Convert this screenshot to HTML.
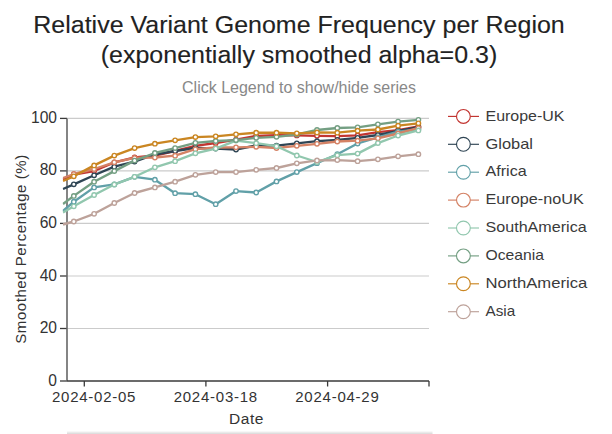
<!DOCTYPE html>
<html><head><meta charset="utf-8"><style>
html,body{margin:0;padding:0;background:#fff;width:612px;height:434px;overflow:hidden}
svg{display:block}
text{font-family:"Liberation Sans", sans-serif}
</style></head><body>
<svg width="612" height="434" viewBox="0 0 612 434">
<rect width="612" height="434" fill="#fff"/>

<text x="299" y="32.8" text-anchor="middle" font-size="24.2" textLength="531.5" lengthAdjust="spacingAndGlyphs" fill="#222" stroke="#222" stroke-width="0.12">Relative Variant Genome Frequency per Region</text>
<text x="299" y="63.3" text-anchor="middle" font-size="24.2" textLength="396.5" lengthAdjust="spacingAndGlyphs" fill="#222" stroke="#222" stroke-width="0.12">(exponentially smoothed alpha=0.3)</text>
<text x="299" y="93.1" text-anchor="middle" font-size="16" fill="#888">Click Legend to show/hide series</text>
<line x1="67" y1="328.5" x2="429" y2="328.5" stroke="#cbcbcb" stroke-width="1.2"/>
<line x1="67" y1="276.0" x2="429" y2="276.0" stroke="#cbcbcb" stroke-width="1.2"/>
<line x1="67" y1="223.4" x2="429" y2="223.4" stroke="#cbcbcb" stroke-width="1.2"/>
<line x1="67" y1="170.9" x2="429" y2="170.9" stroke="#cbcbcb" stroke-width="1.2"/>
<line x1="67" y1="118.4" x2="429" y2="118.4" stroke="#cbcbcb" stroke-width="1.2"/>
<line x1="60" y1="381.0" x2="67" y2="381.0" stroke="#3a3a3a" stroke-width="1.3"/>
<text x="57" y="385.5" text-anchor="end" font-size="15.6" fill="#333">0</text>
<line x1="60" y1="328.5" x2="67" y2="328.5" stroke="#3a3a3a" stroke-width="1.3"/>
<text x="57" y="333.0" text-anchor="end" font-size="15.6" fill="#333">20</text>
<line x1="60" y1="276.0" x2="67" y2="276.0" stroke="#3a3a3a" stroke-width="1.3"/>
<text x="57" y="280.5" text-anchor="end" font-size="15.6" fill="#333">40</text>
<line x1="60" y1="223.4" x2="67" y2="223.4" stroke="#3a3a3a" stroke-width="1.3"/>
<text x="57" y="227.9" text-anchor="end" font-size="15.6" fill="#333">60</text>
<line x1="60" y1="170.9" x2="67" y2="170.9" stroke="#3a3a3a" stroke-width="1.3"/>
<text x="57" y="175.4" text-anchor="end" font-size="15.6" fill="#333">80</text>
<line x1="60" y1="118.4" x2="67" y2="118.4" stroke="#3a3a3a" stroke-width="1.3"/>
<text x="57" y="122.9" text-anchor="end" font-size="15.6" fill="#333">100</text>
<line x1="67" y1="118.4" x2="67" y2="381" stroke="#666" stroke-width="1.6"/>
<line x1="67" y1="381" x2="429" y2="381" stroke="#3a3a3a" stroke-width="1.6"/>
<line x1="84.3" y1="381" x2="84.3" y2="386.5" stroke="#3a3a3a" stroke-width="1.3"/>
<line x1="205.9" y1="381" x2="205.9" y2="386.5" stroke="#3a3a3a" stroke-width="1.3"/>
<line x1="327.6" y1="381" x2="327.6" y2="386.5" stroke="#3a3a3a" stroke-width="1.3"/>
<line x1="429" y1="381" x2="429" y2="386.5" stroke="#3a3a3a" stroke-width="1.3"/>
<text x="94.1" y="401.7" text-anchor="middle" font-size="15" letter-spacing="0.75" fill="#333">2024-02-05</text>
<text x="215.8" y="401.7" text-anchor="middle" font-size="15" letter-spacing="0.75" fill="#333">2024-03-18</text>
<text x="337.4" y="401.7" text-anchor="middle" font-size="15" letter-spacing="0.75" fill="#333">2024-04-29</text>
<text x="246.5" y="423.5" text-anchor="middle" font-size="15.5" letter-spacing="0.6" fill="#333">Date</text>
<text transform="translate(26,249) rotate(-90)" x="0" y="0" text-anchor="middle" font-size="15" letter-spacing="0.55" fill="#333">Smoothed Percentage (%)</text>
<rect x="67" y="431.5" width="365.5" height="1" fill="#f0f0f0"/><rect x="67" y="432.5" width="365.5" height="1.5" fill="#dedede"/>
<defs><clipPath id="cp"><rect x="62.5" y="110" width="372" height="280"/></clipPath></defs>
<g clip-path="url(#cp)">
<polyline points="63.0,179.5 73.8,174.5 94.1,171.0 114.3,162.3 134.6,157.5 154.9,155.5 175.1,151.0 195.4,145.8 215.7,143.0 236.0,139.6 256.2,136.0 276.5,135.2 296.8,135.4 317.0,135.8 337.3,136.2 357.6,135.4 377.9,132.1 398.1,130.1 418.4,126.5" fill="none" stroke="#c23531" stroke-width="2.35" stroke-linejoin="round"/>
<circle cx="73.8" cy="174.5" r="2.2" fill="#fff" stroke="#c23531" stroke-width="1.4"/>
<circle cx="94.1" cy="171.0" r="2.2" fill="#fff" stroke="#c23531" stroke-width="1.4"/>
<circle cx="114.3" cy="162.3" r="2.2" fill="#fff" stroke="#c23531" stroke-width="1.4"/>
<circle cx="134.6" cy="157.5" r="2.2" fill="#fff" stroke="#c23531" stroke-width="1.4"/>
<circle cx="154.9" cy="155.5" r="2.2" fill="#fff" stroke="#c23531" stroke-width="1.4"/>
<circle cx="175.1" cy="151.0" r="2.2" fill="#fff" stroke="#c23531" stroke-width="1.4"/>
<circle cx="195.4" cy="145.8" r="2.2" fill="#fff" stroke="#c23531" stroke-width="1.4"/>
<circle cx="215.7" cy="143.0" r="2.2" fill="#fff" stroke="#c23531" stroke-width="1.4"/>
<circle cx="236.0" cy="139.6" r="2.2" fill="#fff" stroke="#c23531" stroke-width="1.4"/>
<circle cx="256.2" cy="136.0" r="2.2" fill="#fff" stroke="#c23531" stroke-width="1.4"/>
<circle cx="276.5" cy="135.2" r="2.2" fill="#fff" stroke="#c23531" stroke-width="1.4"/>
<circle cx="296.8" cy="135.4" r="2.2" fill="#fff" stroke="#c23531" stroke-width="1.4"/>
<circle cx="317.0" cy="135.8" r="2.2" fill="#fff" stroke="#c23531" stroke-width="1.4"/>
<circle cx="337.3" cy="136.2" r="2.2" fill="#fff" stroke="#c23531" stroke-width="1.4"/>
<circle cx="357.6" cy="135.4" r="2.2" fill="#fff" stroke="#c23531" stroke-width="1.4"/>
<circle cx="377.9" cy="132.1" r="2.2" fill="#fff" stroke="#c23531" stroke-width="1.4"/>
<circle cx="398.1" cy="130.1" r="2.2" fill="#fff" stroke="#c23531" stroke-width="1.4"/>
<circle cx="418.4" cy="126.5" r="2.2" fill="#fff" stroke="#c23531" stroke-width="1.4"/>
<polyline points="63.0,189.0 73.8,184.3 94.1,175.3 114.3,166.7 134.6,161.6 154.9,154.5 175.1,151.0 195.4,148.0 215.7,148.5 236.0,149.5 256.2,145.5 276.5,145.7 296.8,143.3 317.0,141.2 337.3,140.0 357.6,137.8 377.9,135.0 398.1,131.0 418.4,127.2" fill="none" stroke="#2f4554" stroke-width="2.35" stroke-linejoin="round"/>
<circle cx="73.8" cy="184.3" r="2.2" fill="#fff" stroke="#2f4554" stroke-width="1.4"/>
<circle cx="94.1" cy="175.3" r="2.2" fill="#fff" stroke="#2f4554" stroke-width="1.4"/>
<circle cx="114.3" cy="166.7" r="2.2" fill="#fff" stroke="#2f4554" stroke-width="1.4"/>
<circle cx="134.6" cy="161.6" r="2.2" fill="#fff" stroke="#2f4554" stroke-width="1.4"/>
<circle cx="154.9" cy="154.5" r="2.2" fill="#fff" stroke="#2f4554" stroke-width="1.4"/>
<circle cx="175.1" cy="151.0" r="2.2" fill="#fff" stroke="#2f4554" stroke-width="1.4"/>
<circle cx="195.4" cy="148.0" r="2.2" fill="#fff" stroke="#2f4554" stroke-width="1.4"/>
<circle cx="215.7" cy="148.5" r="2.2" fill="#fff" stroke="#2f4554" stroke-width="1.4"/>
<circle cx="236.0" cy="149.5" r="2.2" fill="#fff" stroke="#2f4554" stroke-width="1.4"/>
<circle cx="256.2" cy="145.5" r="2.2" fill="#fff" stroke="#2f4554" stroke-width="1.4"/>
<circle cx="276.5" cy="145.7" r="2.2" fill="#fff" stroke="#2f4554" stroke-width="1.4"/>
<circle cx="296.8" cy="143.3" r="2.2" fill="#fff" stroke="#2f4554" stroke-width="1.4"/>
<circle cx="317.0" cy="141.2" r="2.2" fill="#fff" stroke="#2f4554" stroke-width="1.4"/>
<circle cx="337.3" cy="140.0" r="2.2" fill="#fff" stroke="#2f4554" stroke-width="1.4"/>
<circle cx="357.6" cy="137.8" r="2.2" fill="#fff" stroke="#2f4554" stroke-width="1.4"/>
<circle cx="377.9" cy="135.0" r="2.2" fill="#fff" stroke="#2f4554" stroke-width="1.4"/>
<circle cx="398.1" cy="131.0" r="2.2" fill="#fff" stroke="#2f4554" stroke-width="1.4"/>
<circle cx="418.4" cy="127.2" r="2.2" fill="#fff" stroke="#2f4554" stroke-width="1.4"/>
<polyline points="63.0,211.0 73.8,201.7 94.1,187.4 114.3,184.4 134.6,176.8 154.9,179.7 175.1,193.2 195.4,194.2 215.7,204.2 236.0,191.1 256.2,192.5 276.5,181.4 296.8,172.1 317.0,163.2 337.3,154.2 357.6,143.5 377.9,137.3 398.1,131.7 418.4,129.3" fill="none" stroke="#61a0a8" stroke-width="2.35" stroke-linejoin="round"/>
<circle cx="73.8" cy="201.7" r="2.2" fill="#fff" stroke="#61a0a8" stroke-width="1.4"/>
<circle cx="94.1" cy="187.4" r="2.2" fill="#fff" stroke="#61a0a8" stroke-width="1.4"/>
<circle cx="114.3" cy="184.4" r="2.2" fill="#fff" stroke="#61a0a8" stroke-width="1.4"/>
<circle cx="134.6" cy="176.8" r="2.2" fill="#fff" stroke="#61a0a8" stroke-width="1.4"/>
<circle cx="154.9" cy="179.7" r="2.2" fill="#fff" stroke="#61a0a8" stroke-width="1.4"/>
<circle cx="175.1" cy="193.2" r="2.2" fill="#fff" stroke="#61a0a8" stroke-width="1.4"/>
<circle cx="195.4" cy="194.2" r="2.2" fill="#fff" stroke="#61a0a8" stroke-width="1.4"/>
<circle cx="215.7" cy="204.2" r="2.2" fill="#fff" stroke="#61a0a8" stroke-width="1.4"/>
<circle cx="236.0" cy="191.1" r="2.2" fill="#fff" stroke="#61a0a8" stroke-width="1.4"/>
<circle cx="256.2" cy="192.5" r="2.2" fill="#fff" stroke="#61a0a8" stroke-width="1.4"/>
<circle cx="276.5" cy="181.4" r="2.2" fill="#fff" stroke="#61a0a8" stroke-width="1.4"/>
<circle cx="296.8" cy="172.1" r="2.2" fill="#fff" stroke="#61a0a8" stroke-width="1.4"/>
<circle cx="317.0" cy="163.2" r="2.2" fill="#fff" stroke="#61a0a8" stroke-width="1.4"/>
<circle cx="337.3" cy="154.2" r="2.2" fill="#fff" stroke="#61a0a8" stroke-width="1.4"/>
<circle cx="357.6" cy="143.5" r="2.2" fill="#fff" stroke="#61a0a8" stroke-width="1.4"/>
<circle cx="377.9" cy="137.3" r="2.2" fill="#fff" stroke="#61a0a8" stroke-width="1.4"/>
<circle cx="398.1" cy="131.7" r="2.2" fill="#fff" stroke="#61a0a8" stroke-width="1.4"/>
<circle cx="418.4" cy="129.3" r="2.2" fill="#fff" stroke="#61a0a8" stroke-width="1.4"/>
<polyline points="63.0,178.0 73.8,174.0 94.1,169.0 114.3,162.3 134.6,157.9 154.9,157.5 175.1,155.7 195.4,149.2 215.7,147.5 236.0,147.3 256.2,146.8 276.5,148.0 296.8,145.8 317.0,143.8 337.3,141.5 357.6,140.7 377.9,138.3 398.1,133.5 418.4,128.0" fill="none" stroke="#d48265" stroke-width="2.35" stroke-linejoin="round"/>
<circle cx="73.8" cy="174.0" r="2.2" fill="#fff" stroke="#d48265" stroke-width="1.4"/>
<circle cx="94.1" cy="169.0" r="2.2" fill="#fff" stroke="#d48265" stroke-width="1.4"/>
<circle cx="114.3" cy="162.3" r="2.2" fill="#fff" stroke="#d48265" stroke-width="1.4"/>
<circle cx="134.6" cy="157.9" r="2.2" fill="#fff" stroke="#d48265" stroke-width="1.4"/>
<circle cx="154.9" cy="157.5" r="2.2" fill="#fff" stroke="#d48265" stroke-width="1.4"/>
<circle cx="175.1" cy="155.7" r="2.2" fill="#fff" stroke="#d48265" stroke-width="1.4"/>
<circle cx="195.4" cy="149.2" r="2.2" fill="#fff" stroke="#d48265" stroke-width="1.4"/>
<circle cx="215.7" cy="147.5" r="2.2" fill="#fff" stroke="#d48265" stroke-width="1.4"/>
<circle cx="236.0" cy="147.3" r="2.2" fill="#fff" stroke="#d48265" stroke-width="1.4"/>
<circle cx="256.2" cy="146.8" r="2.2" fill="#fff" stroke="#d48265" stroke-width="1.4"/>
<circle cx="276.5" cy="148.0" r="2.2" fill="#fff" stroke="#d48265" stroke-width="1.4"/>
<circle cx="296.8" cy="145.8" r="2.2" fill="#fff" stroke="#d48265" stroke-width="1.4"/>
<circle cx="317.0" cy="143.8" r="2.2" fill="#fff" stroke="#d48265" stroke-width="1.4"/>
<circle cx="337.3" cy="141.5" r="2.2" fill="#fff" stroke="#d48265" stroke-width="1.4"/>
<circle cx="357.6" cy="140.7" r="2.2" fill="#fff" stroke="#d48265" stroke-width="1.4"/>
<circle cx="377.9" cy="138.3" r="2.2" fill="#fff" stroke="#d48265" stroke-width="1.4"/>
<circle cx="398.1" cy="133.5" r="2.2" fill="#fff" stroke="#d48265" stroke-width="1.4"/>
<circle cx="418.4" cy="128.0" r="2.2" fill="#fff" stroke="#d48265" stroke-width="1.4"/>
<polyline points="63.0,212.5 73.8,206.3 94.1,195.0 114.3,184.5 134.6,176.8 154.9,167.3 175.1,161.2 195.4,153.3 215.7,148.6 236.0,140.6 256.2,143.2 276.5,146.2 296.8,155.5 317.0,162.0 337.3,155.2 357.6,153.6 377.9,143.1 398.1,135.5 418.4,130.4" fill="none" stroke="#91c7ae" stroke-width="2.35" stroke-linejoin="round"/>
<circle cx="73.8" cy="206.3" r="2.2" fill="#fff" stroke="#91c7ae" stroke-width="1.4"/>
<circle cx="94.1" cy="195.0" r="2.2" fill="#fff" stroke="#91c7ae" stroke-width="1.4"/>
<circle cx="114.3" cy="184.5" r="2.2" fill="#fff" stroke="#91c7ae" stroke-width="1.4"/>
<circle cx="134.6" cy="176.8" r="2.2" fill="#fff" stroke="#91c7ae" stroke-width="1.4"/>
<circle cx="154.9" cy="167.3" r="2.2" fill="#fff" stroke="#91c7ae" stroke-width="1.4"/>
<circle cx="175.1" cy="161.2" r="2.2" fill="#fff" stroke="#91c7ae" stroke-width="1.4"/>
<circle cx="195.4" cy="153.3" r="2.2" fill="#fff" stroke="#91c7ae" stroke-width="1.4"/>
<circle cx="215.7" cy="148.6" r="2.2" fill="#fff" stroke="#91c7ae" stroke-width="1.4"/>
<circle cx="236.0" cy="140.6" r="2.2" fill="#fff" stroke="#91c7ae" stroke-width="1.4"/>
<circle cx="256.2" cy="143.2" r="2.2" fill="#fff" stroke="#91c7ae" stroke-width="1.4"/>
<circle cx="276.5" cy="146.2" r="2.2" fill="#fff" stroke="#91c7ae" stroke-width="1.4"/>
<circle cx="296.8" cy="155.5" r="2.2" fill="#fff" stroke="#91c7ae" stroke-width="1.4"/>
<circle cx="317.0" cy="162.0" r="2.2" fill="#fff" stroke="#91c7ae" stroke-width="1.4"/>
<circle cx="337.3" cy="155.2" r="2.2" fill="#fff" stroke="#91c7ae" stroke-width="1.4"/>
<circle cx="357.6" cy="153.6" r="2.2" fill="#fff" stroke="#91c7ae" stroke-width="1.4"/>
<circle cx="377.9" cy="143.1" r="2.2" fill="#fff" stroke="#91c7ae" stroke-width="1.4"/>
<circle cx="398.1" cy="135.5" r="2.2" fill="#fff" stroke="#91c7ae" stroke-width="1.4"/>
<circle cx="418.4" cy="130.4" r="2.2" fill="#fff" stroke="#91c7ae" stroke-width="1.4"/>
<polyline points="63.0,204.0 73.8,195.9 94.1,181.7 114.3,171.1 134.6,160.6 154.9,153.0 175.1,148.1 195.4,142.8 215.7,141.0 236.0,140.1 256.2,137.8 276.5,136.8 296.8,134.5 317.0,130.0 337.3,128.0 357.6,127.3 377.9,124.3 398.1,121.6 418.4,119.8" fill="none" stroke="#749f83" stroke-width="2.35" stroke-linejoin="round"/>
<circle cx="73.8" cy="195.9" r="2.2" fill="#fff" stroke="#749f83" stroke-width="1.4"/>
<circle cx="94.1" cy="181.7" r="2.2" fill="#fff" stroke="#749f83" stroke-width="1.4"/>
<circle cx="114.3" cy="171.1" r="2.2" fill="#fff" stroke="#749f83" stroke-width="1.4"/>
<circle cx="134.6" cy="160.6" r="2.2" fill="#fff" stroke="#749f83" stroke-width="1.4"/>
<circle cx="154.9" cy="153.0" r="2.2" fill="#fff" stroke="#749f83" stroke-width="1.4"/>
<circle cx="175.1" cy="148.1" r="2.2" fill="#fff" stroke="#749f83" stroke-width="1.4"/>
<circle cx="195.4" cy="142.8" r="2.2" fill="#fff" stroke="#749f83" stroke-width="1.4"/>
<circle cx="215.7" cy="141.0" r="2.2" fill="#fff" stroke="#749f83" stroke-width="1.4"/>
<circle cx="236.0" cy="140.1" r="2.2" fill="#fff" stroke="#749f83" stroke-width="1.4"/>
<circle cx="256.2" cy="137.8" r="2.2" fill="#fff" stroke="#749f83" stroke-width="1.4"/>
<circle cx="276.5" cy="136.8" r="2.2" fill="#fff" stroke="#749f83" stroke-width="1.4"/>
<circle cx="296.8" cy="134.5" r="2.2" fill="#fff" stroke="#749f83" stroke-width="1.4"/>
<circle cx="317.0" cy="130.0" r="2.2" fill="#fff" stroke="#749f83" stroke-width="1.4"/>
<circle cx="337.3" cy="128.0" r="2.2" fill="#fff" stroke="#749f83" stroke-width="1.4"/>
<circle cx="357.6" cy="127.3" r="2.2" fill="#fff" stroke="#749f83" stroke-width="1.4"/>
<circle cx="377.9" cy="124.3" r="2.2" fill="#fff" stroke="#749f83" stroke-width="1.4"/>
<circle cx="398.1" cy="121.6" r="2.2" fill="#fff" stroke="#749f83" stroke-width="1.4"/>
<circle cx="418.4" cy="119.8" r="2.2" fill="#fff" stroke="#749f83" stroke-width="1.4"/>
<polyline points="63.0,181.0 73.8,176.3 94.1,165.4 114.3,155.6 134.6,148.1 154.9,143.7 175.1,140.3 195.4,137.1 215.7,136.3 236.0,134.3 256.2,132.7 276.5,132.7 296.8,133.3 317.0,132.5 337.3,132.7 357.6,130.7 377.9,129.5 398.1,125.7 418.4,123.3" fill="none" stroke="#ca8622" stroke-width="2.35" stroke-linejoin="round"/>
<circle cx="73.8" cy="176.3" r="2.2" fill="#fff" stroke="#ca8622" stroke-width="1.4"/>
<circle cx="94.1" cy="165.4" r="2.2" fill="#fff" stroke="#ca8622" stroke-width="1.4"/>
<circle cx="114.3" cy="155.6" r="2.2" fill="#fff" stroke="#ca8622" stroke-width="1.4"/>
<circle cx="134.6" cy="148.1" r="2.2" fill="#fff" stroke="#ca8622" stroke-width="1.4"/>
<circle cx="154.9" cy="143.7" r="2.2" fill="#fff" stroke="#ca8622" stroke-width="1.4"/>
<circle cx="175.1" cy="140.3" r="2.2" fill="#fff" stroke="#ca8622" stroke-width="1.4"/>
<circle cx="195.4" cy="137.1" r="2.2" fill="#fff" stroke="#ca8622" stroke-width="1.4"/>
<circle cx="215.7" cy="136.3" r="2.2" fill="#fff" stroke="#ca8622" stroke-width="1.4"/>
<circle cx="236.0" cy="134.3" r="2.2" fill="#fff" stroke="#ca8622" stroke-width="1.4"/>
<circle cx="256.2" cy="132.7" r="2.2" fill="#fff" stroke="#ca8622" stroke-width="1.4"/>
<circle cx="276.5" cy="132.7" r="2.2" fill="#fff" stroke="#ca8622" stroke-width="1.4"/>
<circle cx="296.8" cy="133.3" r="2.2" fill="#fff" stroke="#ca8622" stroke-width="1.4"/>
<circle cx="317.0" cy="132.5" r="2.2" fill="#fff" stroke="#ca8622" stroke-width="1.4"/>
<circle cx="337.3" cy="132.7" r="2.2" fill="#fff" stroke="#ca8622" stroke-width="1.4"/>
<circle cx="357.6" cy="130.7" r="2.2" fill="#fff" stroke="#ca8622" stroke-width="1.4"/>
<circle cx="377.9" cy="129.5" r="2.2" fill="#fff" stroke="#ca8622" stroke-width="1.4"/>
<circle cx="398.1" cy="125.7" r="2.2" fill="#fff" stroke="#ca8622" stroke-width="1.4"/>
<circle cx="418.4" cy="123.3" r="2.2" fill="#fff" stroke="#ca8622" stroke-width="1.4"/>
<polyline points="63.0,224.5 73.8,221.5 94.1,213.8 114.3,203.0 134.6,193.0 154.9,187.4 175.1,181.7 195.4,174.8 215.7,172.1 236.0,172.1 256.2,169.8 276.5,168.0 296.8,163.3 317.0,160.4 337.3,160.1 357.6,161.2 377.9,159.3 398.1,156.3 418.4,154.2" fill="none" stroke="#bda29a" stroke-width="2.35" stroke-linejoin="round"/>
<circle cx="73.8" cy="221.5" r="2.2" fill="#fff" stroke="#bda29a" stroke-width="1.4"/>
<circle cx="94.1" cy="213.8" r="2.2" fill="#fff" stroke="#bda29a" stroke-width="1.4"/>
<circle cx="114.3" cy="203.0" r="2.2" fill="#fff" stroke="#bda29a" stroke-width="1.4"/>
<circle cx="134.6" cy="193.0" r="2.2" fill="#fff" stroke="#bda29a" stroke-width="1.4"/>
<circle cx="154.9" cy="187.4" r="2.2" fill="#fff" stroke="#bda29a" stroke-width="1.4"/>
<circle cx="175.1" cy="181.7" r="2.2" fill="#fff" stroke="#bda29a" stroke-width="1.4"/>
<circle cx="195.4" cy="174.8" r="2.2" fill="#fff" stroke="#bda29a" stroke-width="1.4"/>
<circle cx="215.7" cy="172.1" r="2.2" fill="#fff" stroke="#bda29a" stroke-width="1.4"/>
<circle cx="236.0" cy="172.1" r="2.2" fill="#fff" stroke="#bda29a" stroke-width="1.4"/>
<circle cx="256.2" cy="169.8" r="2.2" fill="#fff" stroke="#bda29a" stroke-width="1.4"/>
<circle cx="276.5" cy="168.0" r="2.2" fill="#fff" stroke="#bda29a" stroke-width="1.4"/>
<circle cx="296.8" cy="163.3" r="2.2" fill="#fff" stroke="#bda29a" stroke-width="1.4"/>
<circle cx="317.0" cy="160.4" r="2.2" fill="#fff" stroke="#bda29a" stroke-width="1.4"/>
<circle cx="337.3" cy="160.1" r="2.2" fill="#fff" stroke="#bda29a" stroke-width="1.4"/>
<circle cx="357.6" cy="161.2" r="2.2" fill="#fff" stroke="#bda29a" stroke-width="1.4"/>
<circle cx="377.9" cy="159.3" r="2.2" fill="#fff" stroke="#bda29a" stroke-width="1.4"/>
<circle cx="398.1" cy="156.3" r="2.2" fill="#fff" stroke="#bda29a" stroke-width="1.4"/>
<circle cx="418.4" cy="154.2" r="2.2" fill="#fff" stroke="#bda29a" stroke-width="1.4"/>
</g>
<line x1="448" y1="116.4" x2="479" y2="116.4" stroke="#c23531" stroke-width="1.15"/>
<circle cx="463.4" cy="116.4" r="6.9" fill="#fff" stroke="#c23531" stroke-width="1.15"/>
<text x="485.5" y="120.6" font-size="14.4" textLength="79" lengthAdjust="spacingAndGlyphs" fill="#3a3a3a">Europe-UK</text>
<line x1="448" y1="144.3" x2="479" y2="144.3" stroke="#2f4554" stroke-width="1.15"/>
<circle cx="463.4" cy="144.3" r="6.9" fill="#fff" stroke="#2f4554" stroke-width="1.15"/>
<text x="485.5" y="148.5" font-size="14.4" textLength="47.5" lengthAdjust="spacingAndGlyphs" fill="#3a3a3a">Global</text>
<line x1="448" y1="172.2" x2="479" y2="172.2" stroke="#61a0a8" stroke-width="1.15"/>
<circle cx="463.4" cy="172.2" r="6.9" fill="#fff" stroke="#61a0a8" stroke-width="1.15"/>
<text x="485.5" y="176.4" font-size="14.4" textLength="41.2" lengthAdjust="spacingAndGlyphs" fill="#3a3a3a">Africa</text>
<line x1="448" y1="200.1" x2="479" y2="200.1" stroke="#d48265" stroke-width="1.15"/>
<circle cx="463.4" cy="200.1" r="6.9" fill="#fff" stroke="#d48265" stroke-width="1.15"/>
<text x="485.5" y="204.3" font-size="14.4" textLength="98.2" lengthAdjust="spacingAndGlyphs" fill="#3a3a3a">Europe-noUK</text>
<line x1="448" y1="228.0" x2="479" y2="228.0" stroke="#91c7ae" stroke-width="1.15"/>
<circle cx="463.4" cy="228.0" r="6.9" fill="#fff" stroke="#91c7ae" stroke-width="1.15"/>
<text x="485.5" y="232.2" font-size="14.4" textLength="101.2" lengthAdjust="spacingAndGlyphs" fill="#3a3a3a">SouthAmerica</text>
<line x1="448" y1="255.9" x2="479" y2="255.9" stroke="#749f83" stroke-width="1.15"/>
<circle cx="463.4" cy="255.9" r="6.9" fill="#fff" stroke="#749f83" stroke-width="1.15"/>
<text x="485.5" y="260.1" font-size="14.4" textLength="58.5" lengthAdjust="spacingAndGlyphs" fill="#3a3a3a">Oceania</text>
<line x1="448" y1="283.8" x2="479" y2="283.8" stroke="#ca8622" stroke-width="1.15"/>
<circle cx="463.4" cy="283.8" r="6.9" fill="#fff" stroke="#ca8622" stroke-width="1.15"/>
<text x="485.5" y="288.0" font-size="14.4" textLength="101.7" lengthAdjust="spacingAndGlyphs" fill="#3a3a3a">NorthAmerica</text>
<line x1="448" y1="311.7" x2="479" y2="311.7" stroke="#bda29a" stroke-width="1.15"/>
<circle cx="463.4" cy="311.7" r="6.9" fill="#fff" stroke="#bda29a" stroke-width="1.15"/>
<text x="485.5" y="315.9" font-size="14.4" textLength="29.7" lengthAdjust="spacingAndGlyphs" fill="#3a3a3a">Asia</text>
</svg></body></html>
